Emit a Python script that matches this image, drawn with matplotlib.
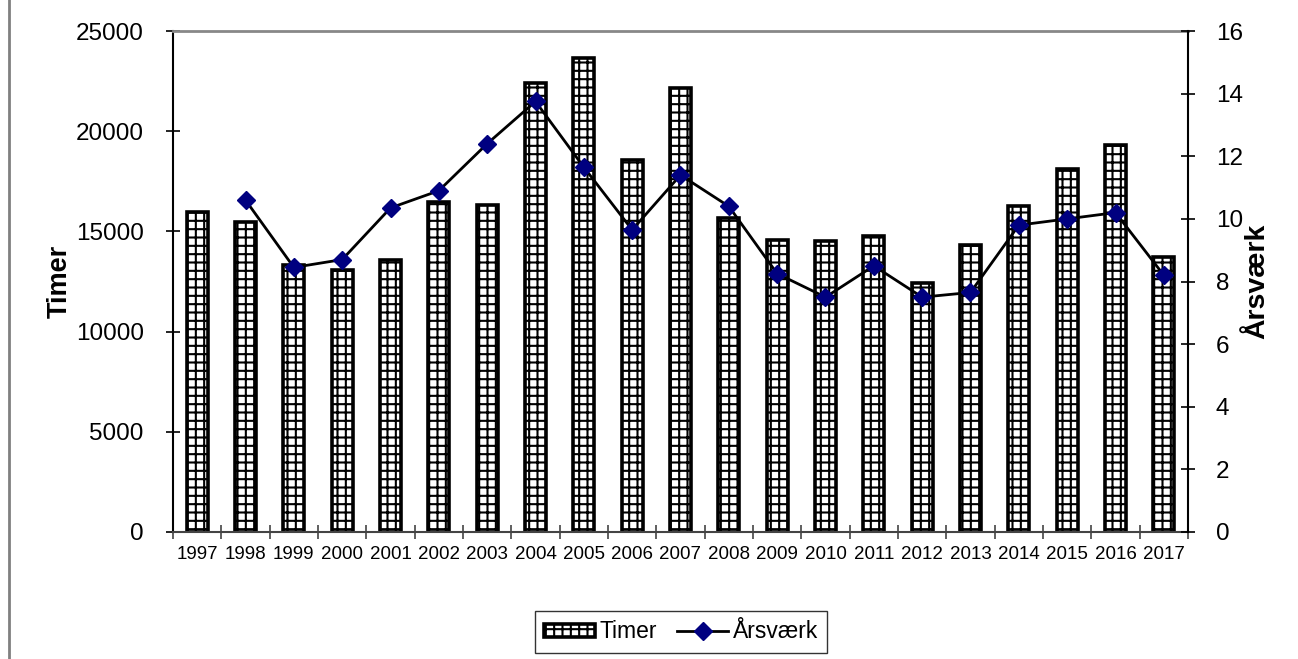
import matplotlib
matplotlib.use("Agg")
import matplotlib.pyplot as plt
from matplotlib.lines import Line2D
import numpy as np

plt.rcParams['font.family'] = ['Liberation Sans', 'DejaVu Sans']
plt.rcParams['hatch.linewidth'] = 1.5

years = ['1997', '1998', '1999', '2000', '2001', '2002', '2003', '2004', '2005', '2006', '2007',
         '2008', '2009', '2010', '2011', '2012', '2013', '2014', '2015', '2016', '2017']
timer = [15950, 15450, 13300, 13050, 13550, 16450, 16300, 22400, 23650, 18550, 22150,
         15650, 14550, 14500, 14750, 12450, 14300, 16250, 18100, 19300, 13700]
aarsvaerk = [np.nan, 10.6, 8.45, 8.7, 10.35, 10.9, 12.4, 13.75, 11.65, 9.65, 11.4,
             10.4, 8.25, 7.5, 8.5, 7.5, 7.65, 9.8, 10.0, 10.2, 8.2]

fig = plt.figure(figsize=(12.98, 6.59), dpi=100)
ax = fig.add_axes([173/1298, 1-532/659, (1188-173)/1298, (532-31)/659])
x = np.arange(len(years))
bars = ax.bar(x, timer, width=0.43, color='white', edgecolor='black', linewidth=2.6,
              hatch='++', label='Timer', zorder=2)
ax.set_xlim(-0.5, len(years)-0.5)
ax.set_ylim(0, 25000)
ax.set_yticks(np.arange(0, 25001, 5000))
ax.set_xticks(x)
ax.set_xticklabels(years, fontsize=13.5)
ax.set_xticks(np.arange(-0.5, len(years), 1), minor=True)
ax.tick_params(axis='x', which='major', length=0, pad=10)
ax.tick_params(axis='x', which='minor', length=10, direction='inout', width=1.2, color='#444444')
ax.tick_params(axis='y', labelsize=17.5, length=10, direction='inout', width=1.2, pad=16)
ax.set_ylabel('Timer', fontsize=19.5, fontweight='bold', labelpad=2)
ax.spines['top'].set_color('#888888')
ax.spines['top'].set_linewidth(2)
ax.spines['left'].set_linewidth(1.5)
ax.spines['bottom'].set_color('#444444')
ax.spines['bottom'].set_linewidth(1.5)
ax.spines['right'].set_visible(False)

ax2 = ax.twinx()
ax2.set_ylim(0, 16)
ax2.set_yticks(np.arange(0, 17, 2))
line, = ax2.plot(x, aarsvaerk, color='black', linewidth=2, marker='D', markersize=9,
                 markerfacecolor='#000080', markeredgecolor='#000080', label='Årsværk', zorder=3)
ax2.tick_params(axis='y', labelsize=17.5, length=10, direction='inout', width=1.2, pad=15)
ax2.set_ylabel('Årsværk', fontsize=20.5, fontweight='bold', labelpad=1)
for s in ['top', 'left', 'bottom']:
    ax2.spines[s].set_visible(False)
ax2.spines['right'].set_linewidth(1.5)

leg = fig.legend([bars, line], ['Timer', 'Årsværk'], loc='center',
                 bbox_to_anchor=(681/1298, 1-632/659), ncol=2, fontsize=16.5,
                 frameon=True, fancybox=False, edgecolor='black', handlelength=2.2,
                 handleheight=0.5, handletextpad=0.2, columnspacing=0.9, borderpad=0.4)
leg.get_frame().set_linewidth(1.0)

fig.add_artist(Line2D([9/1298, 9/1298], [0, 1], transform=fig.transFigure,
                      color='#808080', linewidth=2))

fig.savefig('out.png', dpi=100)
